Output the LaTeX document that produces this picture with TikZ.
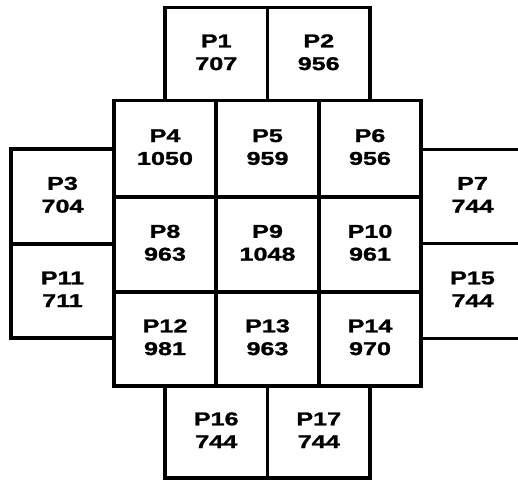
\documentclass[tikz,border=0pt]{standalone}
\usepackage{fontspec}
\setmainfont{Liberation Sans}
\newfontfamily\heavyfont[FakeBold=1.2]{Liberation Sans Bold}
\usepackage{graphicx}
\newcommand{\celltext}[2]{\scalebox{1.36}[1]{\begin{tabular}{@{}c@{}}#1\\[-0.5pt]#2\end{tabular}}}
\tikzset{
  cell/.style={draw=black, line width=3.6pt, rectangle, inner sep=0pt, outer sep=0pt,
    font=\heavyfont\fontsize{18.5}{23.3}\selectfont, text=black}
}
\begin{document}
\begin{tikzpicture}[x=1pt,y=-1pt]
\useasboundingbox (0,0) rectangle (518,480);
\fill[white] (0,0) rectangle (518,480);
% top row
\node[cell, minimum width=102.5pt, minimum height=93pt] (p1) at (216.25,54) {\celltext{P1}{707}};
\node[cell, minimum width=102.5pt, minimum height=93pt] (p2) at (318.75,54) {\celltext{P2}{956}};
% left column
\node[cell, minimum width=103pt, minimum height=95pt] (p3) at (62.5,196.5) {\celltext{P3}{704}};
\node[cell, minimum width=103pt, minimum height=94pt] (p11) at (62.5,291) {\celltext{P11}{711}};
% right column
\node[cell, minimum width=103pt, minimum height=94pt] (p7) at (472.5,196.5) {\celltext{P7}{744}};
\node[cell, minimum width=103pt, minimum height=95pt] (p15) at (472.5,291) {\celltext{P15}{744}};
% central grid
\node[cell, minimum width=102pt, minimum height=96.5pt] (p4) at (165,148.75) {\celltext{P4}{1050}};
\node[cell, minimum width=103pt, minimum height=96.5pt] (p5) at (267.5,148.75) {\celltext{P5}{959}};
\node[cell, minimum width=102pt, minimum height=96.5pt] (p6) at (370,148.75) {\celltext{P6}{956}};
\node[cell, minimum width=102pt, minimum height=95pt] (p8) at (165,244.5) {\celltext{P8}{963}};
\node[cell, minimum width=103pt, minimum height=95pt] (p9) at (267.5,244.5) {\celltext{P9}{1048}};
\node[cell, minimum width=102pt, minimum height=95pt] (p10) at (370,244.5) {\celltext{P10}{961}};
\node[cell, minimum width=102pt, minimum height=94pt] (p12) at (165,339) {\celltext{P12}{981}};
\node[cell, minimum width=103pt, minimum height=94pt] (p13) at (267.5,339) {\celltext{P13}{963}};
\node[cell, minimum width=102pt, minimum height=94pt] (p14) at (370,339) {\celltext{P14}{970}};
% bottom row
\node[cell, minimum width=102.5pt, minimum height=92pt] (p16) at (216.25,432) {\celltext{P16}{744}};
\node[cell, minimum width=102.5pt, minimum height=92pt] (p17) at (318.75,432) {\celltext{P17}{744}};
\end{tikzpicture}
\end{document}
